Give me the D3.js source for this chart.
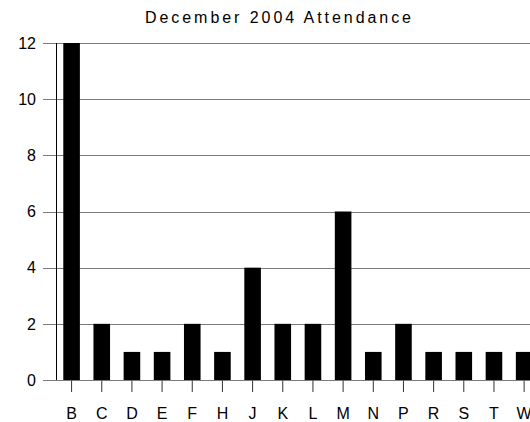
<!DOCTYPE html>
<html>
<head>
<meta charset="utf-8">
<script src="https://cdn.jsdelivr.net/npm/d3@7"></script>
<style>
  body { margin: 0; background: #fff; overflow: hidden; }
  text { font-family: "Liberation Sans", Arial, sans-serif; fill: #000; }
</style>
</head>
<body>
<div id="chart"></div>
<script>
var title = "December 2004 Attendance";
var names = ["B", "C", "D", "E", "F", "H", "J", "K", "L", "M", "N", "P", "R", "S", "T", "W"];
var counts = [12, 2, 1, 1, 2, 1, 4, 2, 2, 6, 1, 2, 1, 1, 1, 1];
var yTicks = [0, 2, 4, 6, 8, 10, 12];

var w = 530, h = 422;
var plotLeft = 56.5, plotTop = 43, plotBottom = 380;

var svg = d3.select("#chart").append("svg")
  .attr("width", w)
  .attr("height", h)
  .style("display", "block");

var x = d3.scaleBand()
  .domain(names)
  .range([plotLeft, plotLeft + names.length * 30.17])
  .paddingInner(0.45)
  .paddingOuter(0.225);

var y = d3.scaleLinear()
  .domain([0, 12])
  .range([plotBottom, plotTop]);

// title
svg.append("text")
  .attr("x", 145)
  .attr("y", 23)
  .attr("font-size", "16px")
  .attr("textLength", 266)
  .attr("lengthAdjust", "spacing")
  .text(title);

// horizontal grid
svg.append("g").selectAll("line")
  .data(yTicks)
  .enter().append("line")
  .attr("x1", 43)
  .attr("x2", w)
  .attr("y1", function(d) { return Math.round(y(d)) + 0.5; })
  .attr("y2", function(d) { return Math.round(y(d)) + 0.5; })
  .attr("stroke", "#7a7a7a")
  .attr("stroke-width", 1.2);

// y labels
svg.append("g").selectAll("text")
  .data(yTicks)
  .enter().append("text")
  .attr("x", 36)
  .attr("y", function(d) { return y(d); })
  .attr("dy", "0.36em")
  .attr("text-anchor", "end")
  .attr("font-size", "16px")
  .text(function(d) { return d; });

// y axis line
svg.append("line")
  .attr("x1", plotLeft).attr("x2", plotLeft)
  .attr("y1", plotTop).attr("y2", plotBottom)
  .attr("stroke", "#000")
  .attr("stroke-width", 1);

// bars
svg.append("g").selectAll("rect")
  .data(counts)
  .enter().append("rect")
  .attr("x", function(d, i) { return x(names[i]); })
  .attr("width", x.bandwidth())
  .attr("y", function(d) { return y(d); })
  .attr("height", function(d) { return y(0) - y(d); })
  .attr("fill", "#000");

// x ticks
var xAxis = svg.append("g");
xAxis.selectAll("line")
  .data(names)
  .enter().append("line")
  .attr("x1", function(d) { return x(d) + x.bandwidth() / 2; })
  .attr("x2", function(d) { return x(d) + x.bandwidth() / 2; })
  .attr("y1", plotBottom + 0.5)
  .attr("y2", plotBottom + 12)
  .attr("stroke", "#333")
  .attr("stroke-width", 1);

xAxis.selectAll("text")
  .data(names)
  .enter().append("text")
  .attr("x", function(d) { return x(d) + x.bandwidth() / 2; })
  .attr("y", 419)
  .attr("text-anchor", "middle")
  .attr("font-size", "16px")
  .text(function(d) { return d; });
</script>
</body>
</html>
